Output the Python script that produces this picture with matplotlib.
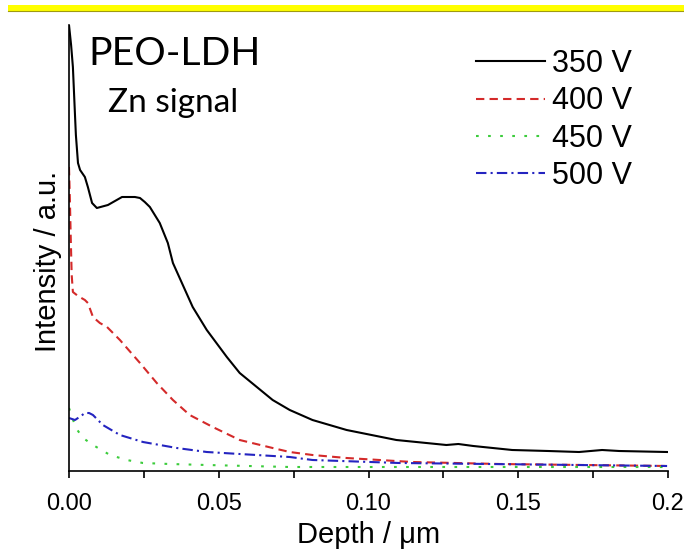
import numpy as np
import matplotlib
matplotlib.use("Agg")
import matplotlib.pyplot as plt
from matplotlib.patches import Rectangle

# depth (um) and intensity (a.u.)
depth_350 = [0, 0.0007, 0.0013, 0.002, 0.0023, 0.003, 0.0037, 0.0053, 0.0063, 0.0077, 0.0093,
             0.013, 0.0177, 0.022, 0.0237, 0.0253, 0.027, 0.0303, 0.033, 0.0347, 0.0413,
             0.046, 0.0527, 0.057, 0.068, 0.0737, 0.0813, 0.0927, 0.1093, 0.126, 0.13,
             0.135, 0.148, 0.16, 0.1703, 0.178, 0.1837, 0.1997]
int_350 = [446, 426, 404, 356, 336, 308, 301, 294, 284, 268, 263,
           266, 274, 274, 273, 269, 264, 248, 228, 208, 164,
           141, 114, 98, 71, 61, 51, 41, 31, 26, 27,
           25, 21, 20, 19, 21, 20, 19]

depth_400 = [0, 0.0003, 0.0006, 0.0009, 0.0013, 0.003, 0.0053, 0.0063, 0.008, 0.0103, 0.0127,
             0.017, 0.0237, 0.0293, 0.0347, 0.0403, 0.048, 0.057, 0.068, 0.0737, 0.0813,
             0.0927, 0.1147, 0.1437, 0.1997]
int_400 = [304, 271, 231, 196, 179, 175, 171, 168, 154, 148, 144,
           131, 108, 88, 71, 56, 44, 31, 23, 19, 16,
           13, 9, 7, 5]

depth_450 = [0, 0.0023, 0.0047, 0.008, 0.0137, 0.0193, 0.0247, 0.0337, 0.046, 0.0737, 0.1997]
int_450 = [63, 43, 33, 26, 16, 11, 8, 7, 6, 4, 4]

depth_500 = [0, 0.002, 0.004, 0.0053, 0.0067, 0.008, 0.0113, 0.017, 0.0247, 0.036, 0.046,
             0.057, 0.0737, 0.0813, 0.1103, 0.1997]
int_500 = [53, 51, 55, 58, 58, 56, 46, 36, 29, 23, 19,
           17, 14, 11, 8, 5]

labels = ["350 V", "400 V", "450 V", "500 V"]
xticks = [0.0, 0.05, 0.10, 0.15, 0.2]
xticklabels = ["0.00", "0.05", "0.10", "0.15", "0.2"]

fig = plt.figure(figsize=(6.84, 5.5), dpi=100)
ax = fig.add_axes([69 / 684, 1 - 471 / 550, 599 / 684, 446 / 550])

lw = 1.5
ax.plot(depth_350, int_350, color="black", lw=lw, label=labels[0])
ax.plot(depth_400, int_400, color="#d42a2a", lw=lw, ls=(0, (4, 2.5)), label=labels[1])
ax.plot(depth_450, int_450, color="#3ccc3c", lw=lw, ls=(0, (1.3, 4.5)), label=labels[2])
ax.plot(depth_500, int_500, color="#2424c0", lw=lw, ls=(0, (5, 2, 1, 2)), label=labels[3])

ax.set_xlim(0, 0.2)
ax.set_ylim(0, 446)
for s in ["top", "right"]:
    ax.spines[s].set_visible(False)
for s in ["left", "bottom"]:
    ax.spines[s].set_linewidth(1.2)
ax.set_yticks([])
ax.set_xticks(xticks)
ax.set_xticklabels(xticklabels, fontsize=17, family="Liberation Sans")
ax.set_xticks(np.arange(0.025, 0.2, 0.05), minor=True)
ax.tick_params(axis="x", which="both", direction="out", length=5, width=1.2, pad=11)

ax.set_xlabel("Depth / \u03bcm", fontsize=21, family="Liberation Sans")
ax.xaxis.set_label_coords(0.5, -0.112)
ax.set_ylabel("Intensity / a.u.", fontsize=21, family="Liberation Sans")
ax.yaxis.set_label_coords(-0.012, 0.469)

leg = ax.legend(loc="upper left", bbox_to_anchor=(476 / 684, 1 - 49 / 550),
                bbox_transform=fig.transFigure, frameon=False, borderpad=0,
                borderaxespad=0, handlelength=2.25, handletextpad=0.23,
                labelspacing=0.24, prop={"family": "Liberation Sans", "size": 22})

fig.text(88 / 684, 1 - 65 / 550, "PEO-LDH", fontsize=28.3, family="Lato",
         ha="left", va="baseline")
fig.text(108 / 684, 1 - 112 / 550, "Zn signal", fontsize=24, family="Lato",
         ha="left", va="baseline")

# yellow bar on top
fig.patches.append(Rectangle((8 / 684, 1 - 11 / 550), 1, 6 / 550, transform=fig.transFigure,
                             facecolor="#ffff00", edgecolor="none"))
fig.lines.append(plt.Line2D([8 / 684, 1], [1 - 11 / 550] * 2, transform=fig.transFigure,
                            color="#a09a10", lw=0.8))

fig.savefig("out.png", dpi=100, facecolor="white")
